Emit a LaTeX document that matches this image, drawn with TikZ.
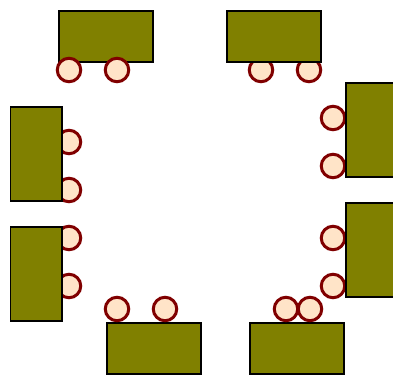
\documentclass[tikz,border=0pt]{standalone}
\usepackage{xcolor}
\usepackage{tikz}
\usetikzlibrary{positioning}
\definecolor{seatfill}{RGB}{255,228,200}
\definecolor{deskfill}{RGB}{128,128,0}
\definecolor{seatline}{RGB}{128,0,0}

\begin{document}
\begin{tikzpicture}[x=1pt, y=-1pt,
    deskh/.style={rectangle, draw=black, line width=1.6pt, fill=deskfill, minimum width=94.4pt, minimum height=51.4pt, inner sep=0pt},
    deskv/.style={rectangle, draw=black, line width=1.6pt, fill=deskfill, minimum width=51.4pt, minimum height=94.4pt, inner sep=0pt},
    seat/.style={circle, draw=seatline, line width=3pt, fill=seatfill, minimum size=23.5pt, inner sep=0pt}]
          \useasboundingbox (0,0) rectangle (393,375);
          \clip (0,0) rectangle (393,375);

          \node[deskh] (d1) at (106,36.5) {};
          \node[seat] (s1) at (69,70) {};
          \node[seat] (s2) at (117,70) {};

          \node[seat] (s3) at (261,70) {};
          \node[seat] (s4) at (309,70) {};
          \node[deskh] (d2) at (274,36.5) {};

          \node[seat] (s5) at (69,142) {};
          \node[seat] (s6) at (69,190) {};
          \node[deskv] (d3) at (36,154) {};

          \node[seat] (s7) at (69,238) {};
          \node[seat] (s8) at (69,286) {};
          \node[deskv] (d4) at (36,274) {};

          \node[seat] (s9) at (333,118) {};
          \node[seat] (s10) at (333,166) {};
          \node[deskv] (d5) at (371.5,130) {};

          \node[seat] (s11) at (333,238) {};
          \node[seat] (s12) at (333,286) {};
          \node[deskv] (d6) at (371.5,250) {};

          \node[deskh] (d7) at (154,348.5) {};
          \node[seat] (s13) at (117,309) {};
          \node[seat] (s14) at (165,309) {};

          \node[deskh] (d8) at (297,348.5) {};
          \node[seat] (s15) at (286,309) {};
          \node[seat] (s16) at (310,309) {};
        \end{tikzpicture}
\end{document}
